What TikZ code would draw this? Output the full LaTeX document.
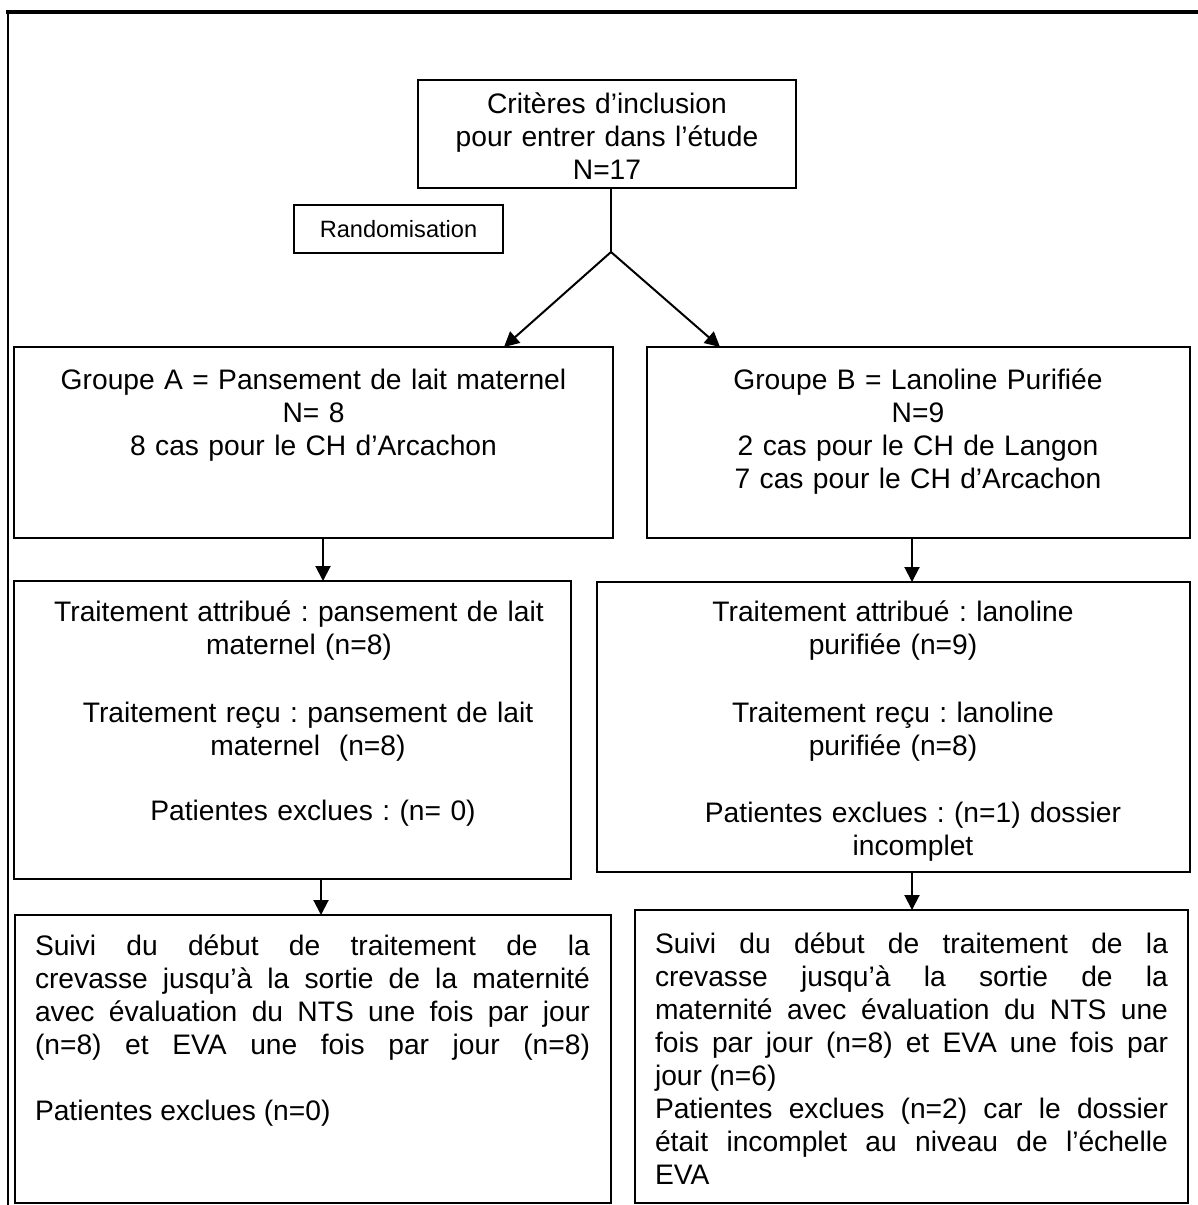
\documentclass[tikz,border=0pt]{standalone}
\usepackage{fontspec}
\setmainfont{Liberation Sans}
\usetikzlibrary{arrows.meta}
\frenchspacing
\newcommand\mainsz{\fontsize{28.2}{33}\selectfont}
\tikzset{
  box/.style={draw, line width=2pt, inner sep=0pt, outer sep=0pt, anchor=north west},
  tx/.style={inner sep=0pt, outer sep=0pt, anchor=north, text width=#1, align=center, font=\mainsz},
  jt/.style={inner sep=0pt, outer sep=0pt, anchor=north west, text width=#1, align=justify, font=\mainsz},
  link/.style={line width=2pt},
  arr/.style={line width=2pt, -{Triangle[length=15pt,width=15pt]}},
}
\begin{document}
\begin{tikzpicture}[x=1pt,y=-1pt]
\useasboundingbox (0,0) rectangle (1198,1205);
% outer frame
\draw[line width=4pt] (6,12) -- (1198,12);
\draw[line width=2.5pt] (8,10) -- (8,1205);

% boxes
\node[box, minimum width=378pt, minimum height=108pt] (crit) at (418,80) {};
\node[box, line width=1.6pt, minimum width=209pt, minimum height=48pt, anchor=center,
      font=\fontsize{23.6}{27}\selectfont] (rand) at (398.5,229) {Randomisation};
\node[box, minimum width=599pt, minimum height=191pt] (ga) at (14,347) {};
\node[box, minimum width=543pt, minimum height=191pt] (gb) at (647,347) {};
\node[box, minimum width=557pt, minimum height=298pt] (ta) at (14,581) {};
\node[box, minimum width=593pt, minimum height=290pt] (tb) at (597,582) {};
\node[box, minimum width=596pt, minimum height=288pt] (sa) at (15,915) {};
\node[box, minimum width=553pt, minimum height=293pt] (sb) at (635,910) {};

% texts
\node[tx=370pt] (critT) at (607,89.9) {\strut Critères d’inclusion\\pour entrer dans l’étude\\N=17};
\node[tx=590pt] (gaT) at (313.5,365.9) {\strut Groupe A = Pansement de lait maternel\\N= 8\\8 cas pour le CH d’Arcachon};
\node[tx=530pt] (gbT) at (918,365.9) {\strut Groupe B = Lanoline Purifiée\\N=9\\2 cas pour le CH de Langon\\7 cas pour le CH d’Arcachon};

\node[tx=550pt] (taT1) at (299,597.9) {\strut Traitement attribué : pansement de lait\\maternel (n=8)};
\node[tx=550pt] (taT2) at (308,698.9) {\strut Traitement reçu : pansement de lait\\maternel\ \ (n=8)};
\node[tx=550pt] (taT3) at (313,796.9) {\strut Patientes exclues : (n= 0)};

\node[tx=580pt] (tbT1) at (893,597.9) {\strut Traitement attribué : lanoline\\purifiée (n=9)};
\node[tx=580pt] (tbT2) at (893,698.9) {\strut Traitement reçu : lanoline\\purifiée (n=8)};
\node[tx=580pt] (tbT3) at (913,798.9) {\strut Patientes exclues : (n=1) dossier\\incomplet};

\node[jt=555pt] (saT1) at (35,931.9) {\tolerance=10000\hyphenpenalty=10000\parfillskip=0pt
\strut Suivi du début de traitement de la\linebreak crevasse jusqu’à la sortie de la maternité\linebreak avec évaluation du NTS une fois par jour\linebreak (n=8) et EVA une fois par jour (n=8)\par};
\node[jt=555pt] (saT2) at (35,1096.9) {\strut Patientes exclues (n=0)};

\node[jt=513pt] (sbT) at (655,929.9) {\tolerance=10000\hyphenpenalty=10000
\strut Suivi du début de traitement de la\linebreak crevasse jusqu’à la sortie de la\linebreak maternité avec évaluation du NTS une\linebreak fois par jour (n=8) et EVA une fois par\linebreak jour (n=6)\par
Patientes exclues (n=2) car le dossier\linebreak était incomplet au niveau de l’échelle\linebreak EVA};

% connectors
\coordinate (j) at (611,252);
\coordinate (tipA) at (504,347);
\coordinate (tipB) at (720,347);
\coordinate (xa) at (323,0);
\coordinate (xb) at (912,0);
\coordinate (xc) at (321,0);
\coordinate (xd) at (912,0);
\draw[link] (crit.south -| j) -- (j);
\draw[arr] (j) -- (tipA);
\draw[arr] (j) -- (tipB);
\draw[arr] (ga.south -| xa) -- (ta.north -| xa);
\draw[arr] (gb.south -| xb) -- (tb.north -| xb);
\draw[arr] (ta.south -| xc) -- (sa.north -| xc);
\draw[arr] (tb.south -| xd) -- (sb.north -| xd);
\end{tikzpicture}
\end{document}
